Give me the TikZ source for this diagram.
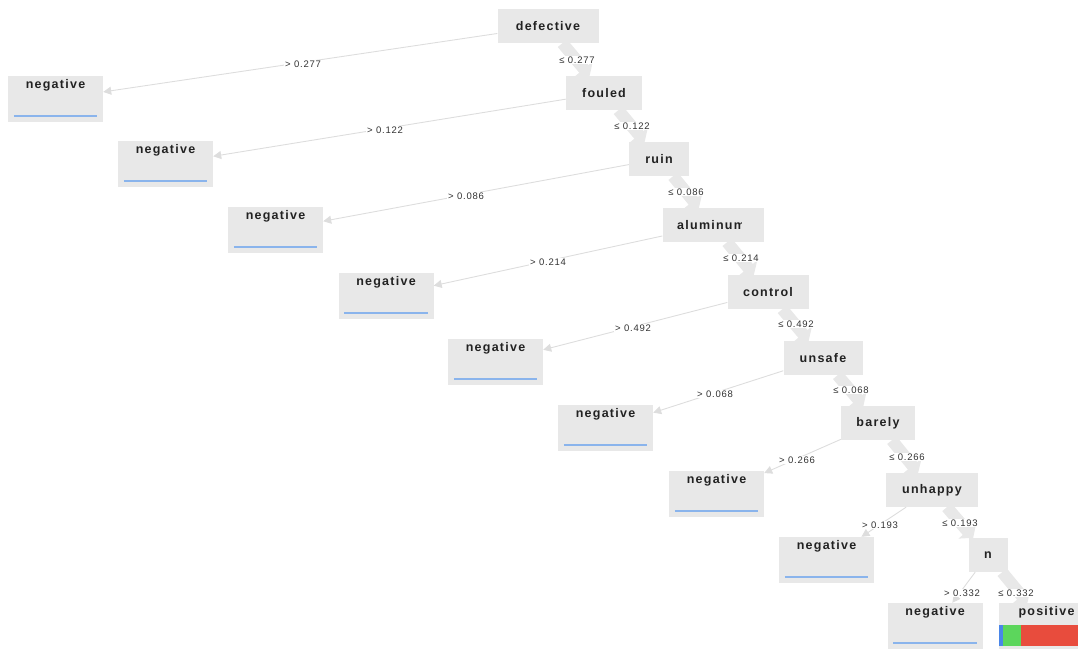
\documentclass[tikz,border=0pt]{standalone}
\usepackage{fontspec}
\setmainfont{Liberation Sans}
\newfontfamily\nodefont[LetterSpace=10]{Liberation Sans}
\newfontfamily\labfont[LetterSpace=8]{Liberation Sans}
\usetikzlibrary{arrows.meta,calc}
\definecolor{boxgray}{HTML}{E8E8E8}
\definecolor{edgegray}{HTML}{DDDDDD}
\definecolor{negblue}{HTML}{8AB4EC}
\definecolor{barblue}{HTML}{4A86E8}
\definecolor{bargreen}{HTML}{5CD65C}
\definecolor{barred}{HTML}{E84C3D}
\definecolor{txt}{HTML}{222222}
\definecolor{labtxt}{HTML}{333333}
\begin{document}
\begin{tikzpicture}[x=1pt,y=-1pt,
  innerbox/.style={fill=boxgray, minimum height=34pt, inner sep=0pt, text=txt,
    font=\nodefont\bfseries\fontsize{12.5}{14}\selectfont},
  leafbox/.style={fill=boxgray, minimum width=95pt, minimum height=46pt, inner sep=0pt},
  leaftext/.style={inner sep=0pt, text=txt, font=\nodefont\bfseries\fontsize{12.5}{14}\selectfont},
  negline/.style={draw=negblue, line width=1.5pt},
  yesedge/.style={draw=boxgray, line width=12pt, -{Triangle[length=9pt,width=23pt]}},
  noedge/.style={draw=edgegray, line width=0.9pt, -{Triangle[length=8pt,width=8pt]}},
  edgelab/.style={fill=white, inner sep=1pt, text=labtxt,
    font=\labfont\fontsize{9.5}{11}\selectfont}]
\useasboundingbox (0,0) rectangle (1078,650);
\clip (0,0) rectangle (1078,650);

% internal nodes
\node[innerbox, minimum width=101pt] (def) at (548,26) {defective};
\node[innerbox, minimum width=76pt] (fou) at (604,93) {fouled};
\node[innerbox, minimum width=60pt] (rui) at (659,159) {ruin};
\node[innerbox, minimum width=101pt] (alu) at (713,225) {};
\begin{scope}
  \clip (677,208) rectangle (741,242);
  \node[leaftext, anchor=west] (alut) at (677,225) {aluminum};
\end{scope}
\node[innerbox, minimum width=81pt] (con) at (768,292) {control};
\node[innerbox, minimum width=79pt] (uns) at (823,358) {unsafe};
\node[innerbox, minimum width=74pt] (bar) at (878,423) {barely};
\node[innerbox, minimum width=92pt] (unh) at (932,490) {unhappy};
\node[innerbox, minimum width=39pt] (nn) at (988,555) {n};

% leaves
\foreach \name/\cx/\cy in {l1/55.5/99, l2/165.5/164, l3/275.5/230, l4/386/296,
    l5/495.5/362, l6/605.5/428, l7/716.5/494, l8/826.5/560, l9/935/626} {
  \node[leafbox] (\name) at (\cx,\cy) {};
  \node[leaftext] (\name t) at ($(\name.north)+(0,9.5)$) {negative};
  \draw[negline] ($(\name.south west)+(6,-6)$) -- ($(\name.south east)+(-6,-6)$);
}
\node[leafbox] (pos) at (1046.5,626) {};
\node[leaftext] (post) at ($(pos.north)+(0,9.5)$) {positive};
\fill[barblue] (999,625) rectangle (1003,646);
\fill[bargreen] (1003,625) rectangle (1021,646);
\fill[barred] (1021,625) rectangle (1088,646);

% edges
\draw[yesedge] (def) -- (fou);
\draw[yesedge] (fou) -- (rui);
\draw[yesedge] (rui) -- (alu);
\draw[yesedge] (alu) -- (con);
\draw[yesedge] (con) -- (uns);
\draw[yesedge] (uns) -- (bar);
\draw[yesedge] (bar) -- (unh);
\draw[yesedge] (unh) -- (nn);
\draw[yesedge] (nn) -- (pos);

\draw[noedge] (def) -- (l1);
\draw[noedge] (fou) -- (l2);
\draw[noedge] (rui) -- (l3);
\draw[noedge] (alu) -- (l4);
\draw[noedge] (con) -- (l5);
\draw[noedge] (uns) -- (l6);
\draw[noedge] (bar) -- (l7);
\draw[noedge] (unh) -- (l8);
\draw[noedge] (nn) -- (l9);

% labels
\node[edgelab] (g1) at (303,64) {> 0.277};
\node[edgelab] (g2) at (385,130) {> 0.122};
\node[edgelab] (g3) at (466,196) {> 0.086};
\node[edgelab] (g4) at (548,262) {> 0.214};
\node[edgelab] (g5) at (633,328) {> 0.492};
\node[edgelab] (g6) at (715,394) {> 0.068};
\node[edgelab] (g7) at (797,460) {> 0.266};
\node[edgelab] (g8) at (880,525) {> 0.193};
\node[edgelab] (g9) at (962,593) {> 0.332};

\node[edgelab] (s1) at (577,60) {≤ 0.277};
\node[edgelab] (s2) at (632,126) {≤ 0.122};
\node[edgelab] (s3) at (686,192) {≤ 0.086};
\node[edgelab] (s4) at (741,258) {≤ 0.214};
\node[edgelab] (s5) at (796,324) {≤ 0.492};
\node[edgelab] (s6) at (851,390) {≤ 0.068};
\node[edgelab] (s7) at (907,457) {≤ 0.266};
\node[edgelab] (s8) at (960,523) {≤ 0.193};
\node[edgelab] (s9) at (1016,593) {≤ 0.332};
\end{tikzpicture}
\end{document}
